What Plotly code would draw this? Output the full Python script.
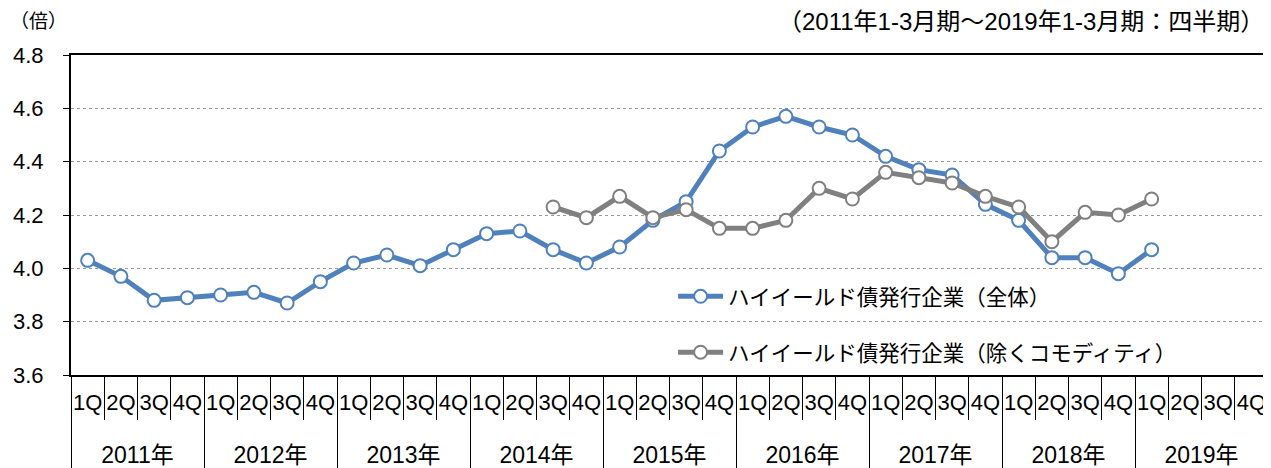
import plotly.graph_objects as go

years = ["2011年", "2012年", "2013年", "2014年", "2015年", "2016年", "2017年", "2018年", "2019年"]
quarters = ["1Q", "2Q", "3Q", "4Q"]

total_vals = [4.03, 3.97, 3.88, 3.89, 3.90, 3.91, 3.87, 3.95,
              4.02, 4.05, 4.01, 4.07, 4.13, 4.14, 4.07, 4.02,
              4.08, 4.18, 4.25, 4.44, 4.53, 4.57, 4.53, 4.50,
              4.42, 4.37, 4.35, 4.24, 4.18, 4.04, 4.04, 3.98,
              4.07, None, None, None]
excomm_vals = [None, None, None, None, None, None, None, None,
               None, None, None, None, None, None, 4.23, 4.19,
               4.27, 4.19, 4.22, 4.15, 4.15, 4.18, 4.30, 4.26,
               4.36, 4.34, 4.32, 4.27, 4.23, 4.10, 4.21, 4.20,
               4.26, None, None, None]

name_total = "ハイイールド債発行企業（全体）"
name_ex = "ハイイールド債発行企業（除くコモディティ）"

# category positions (one slot per quarter)
nq = len(quarters)
n = len(years) * nq
x_idx = list(range(n))
q_text = [q for _ in years for q in quarters]
q_bounds = [i - 0.5 for i in range(n + 1)]
year_centers = [k * nq + (nq - 1) / 2 for k in range(len(years))]
year_bounds = [k * nq - 0.5 for k in range(len(years) + 1)]

FONT = "Arial, 'Liberation Sans', 'Noto Sans CJK JP', sans-serif"
BLUE = "#4F81BD"
GRAY = "#808080"

fig = go.Figure()
fig.add_trace(go.Scatter(
    x=x_idx, y=total_vals, name=name_total, mode="lines+markers",
    line=dict(color=BLUE, width=5),
    marker=dict(size=13, color="white", line=dict(color=BLUE, width=2)),
    legendgroup="a", connectgaps=False))
fig.add_trace(go.Scatter(
    x=x_idx, y=excomm_vals, name=name_ex, mode="lines+markers",
    line=dict(color=GRAY, width=5),
    marker=dict(size=13, color="white", line=dict(color=GRAY, width=2)),
    legendgroup="b", connectgaps=False))
# helper trace carrying the year-level axis
fig.add_trace(go.Scatter(
    x=x_idx, y=[None] * n, xaxis="x2", mode="lines", showlegend=False,
    hoverinfo="skip"))

fig.update_layout(
    template="none",
    width=1271, height=468,
    margin=dict(l=63, r=11, t=47, b=101, autoexpand=False),
    paper_bgcolor="white", plot_bgcolor="white",
    font=dict(family=FONT, size=18, color="black"),
    showlegend=True,
    legend=dict(x=0.503, y=0.31, xanchor="left", yanchor="top",
                bgcolor="rgba(0,0,0,0)", font=dict(size=21.5),
                tracegroupgap=25, itemwidth=45),
    xaxis=dict(range=[-0.5, n - 0.5], automargin=False,
               showline=True, linecolor="black", linewidth=2, mirror=True,
               tickmode="array", tickvals=x_idx, ticktext=q_text, ticks="",
               tickangle=0, ticklabelstandoff=7, tickfont=dict(size=22),
               minor=dict(tickmode="array", tickvals=q_bounds, ticks="outside",
                          ticklen=43, tickcolor="black", tickwidth=1, showgrid=False),
               showgrid=False, zeroline=False),
    xaxis2=dict(range=[-0.5, n - 0.5], overlaying="x", anchor="y", side="bottom",
                automargin=False, showline=False,
                tickmode="array", tickvals=year_centers, ticktext=years, ticks="",
                tickangle=0, ticklabelstandoff=64, tickfont=dict(size=23),
                minor=dict(tickmode="array", tickvals=year_bounds, ticks="outside",
                           ticklen=95, tickcolor="black", tickwidth=1, showgrid=False),
                showgrid=False, zeroline=False),
    yaxis=dict(range=[3.6, 4.8], dtick=0.2, tickformat=".1f", automargin=False,
               showline=True, linecolor="black", linewidth=2, mirror=True,
               ticks="outside", ticklen=6, tickcolor="black",
               ticklabelstandoff=15,
               showgrid=True, gridcolor="#999999", griddash="dot", gridwidth=1,
               tickfont=dict(size=22), zeroline=False),
    annotations=[
        dict(text="（倍）", xref="paper", yref="paper", x=0, y=1.0, xshift=-63, yshift=46,
             xanchor="left", yanchor="top", showarrow=False, font=dict(size=19)),
        dict(text="（2011年1-3月期～2019年1-3月期：四半期）", xref="paper", yref="paper",
             x=1.0, y=1.0, xshift=-2, yshift=49, xanchor="right", yanchor="top",
             showarrow=False, font=dict(size=24)),
    ],
)

fig.write_html("out.html")
